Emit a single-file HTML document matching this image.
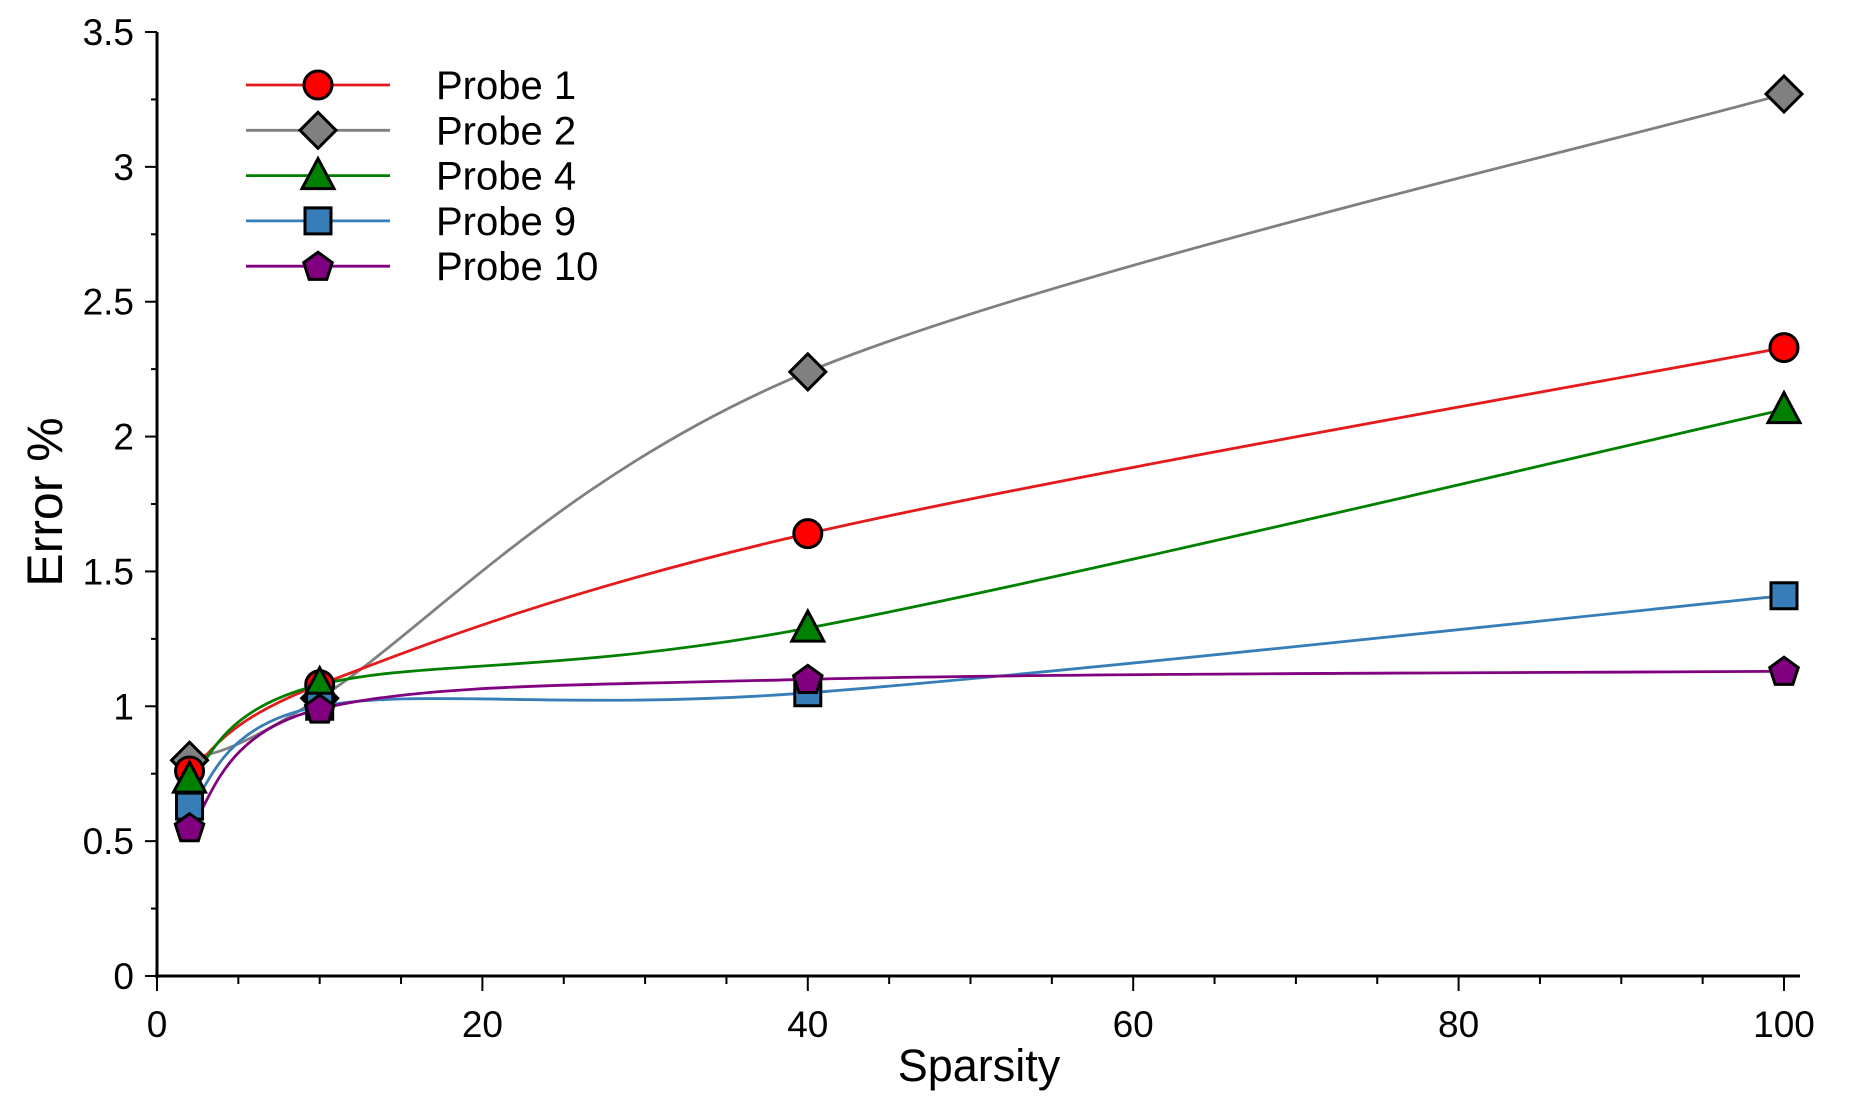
<!DOCTYPE html>
<html><head><meta charset="utf-8"><style>
body{margin:0;background:#fff}
svg{display:block;font-family:"Liberation Sans",sans-serif}
</style></head><body>
<svg id="chart" width="1851" height="1117" viewBox="0 0 1851 1117" xmlns="http://www.w3.org/2000/svg">
<g id="axes"></g>
<g id="series"></g>
<g id="legend"></g>
<text x="979" y="1081" font-size="45" text-anchor="middle">Sparsity</text>
<text x="0" y="0" font-size="50" text-anchor="middle" transform="translate(62,502) rotate(-90)">Error %</text>
</svg>
<script>
const xs = [2, 10, 40, 100];
const names = ["Probe 1","Probe 2","Probe 4","Probe 9","Probe 10"];
const p1 = [0.76, 1.08, 1.64, 2.33];
const p2 = [0.80, 1.03, 2.24, 3.27];
const p4 = [0.73, 1.08, 1.29, 2.10];
const p9 = [0.63, 1.00, 1.05, 1.41];
const p10 = [0.55, 0.99, 1.10, 1.13];
const xTicks = [0,20,40,60,80,100];
const yTicks = [0,0.5,1,1.5,2,2.5,3,3.5];
const yLabels = ["0","0.5","1","1.5","2","2.5","3","3.5"];

const NS="http://www.w3.org/2000/svg";
const X=v=>157+(v/100)*(1784-157);
const Y=v=>976-(v/3.5)*(976-32);
function mk(tag,attrs,parent){const e=document.createElementNS(NS,tag);for(const k in attrs)e.setAttribute(k,attrs[k]);parent.appendChild(e);return e;}
const axes=document.getElementById('axes');
let e;
e=mk('line',{x1:157,y1:32,x2:157,y2:978,stroke:'#000','stroke-width':3},axes);


e=mk('line',{x1:155,y1:976,x2:1800,y2:976,stroke:'#000','stroke-width':3},axes);


for(let v=0;v<=100;v+=5){
  const major=v%20===0;
  e=mk('line',{x1:X(v),y1:976,x2:X(v),y2:976+(major?15:8),stroke:'#000','stroke-width':2},axes);
  
  
}
xTicks.forEach(v=>{
  e=mk('text',{x:X(v),y:1037,'font-size':37,'text-anchor':'middle'},axes);e.textContent=v;
  
  
});
for(let v=0;v<=3.5001;v+=0.25){
  const major=Math.abs(v*2-Math.round(v*2))<1e-6;
  e=mk('line',{x1:157-(major?12:6),y1:Y(v),x2:157,y2:Y(v),stroke:'#000','stroke-width':2},axes);
  
  
}
yTicks.forEach((v,i)=>{
  e=mk('text',{x:134,y:Y(v)+13,'font-size':37,'text-anchor':'end'},axes);e.textContent=yLabels[i];
  
  
});
const colors=['#e41a1c','#808080','#008000','#377eb8','#800080'];
const shapes=['circle','diamond','triangle','square','pentagon'];
const data=[p1,p2,p4,p9,p10];
function marker(shape,cx,cy,fill,parent){
  const s={fill:fill,stroke:'#000','stroke-width':3};
  if(shape==='circle')return mk('circle',Object.assign({cx:cx,cy:cy,r:14},s),parent);
  let pts;
  if(shape==='diamond')pts=[[0,-18],[18,0],[0,18],[-18,0]];
  else if(shape==='triangle')pts=[[0,-17],[16,13],[-16,13]];
  else if(shape==='square')pts=[[-13,-13],[13,-13],[13,13],[-13,13]];
  else {pts=[];for(let k=0;k<5;k++){const a=-Math.PI/2+k*2*Math.PI/5;pts.push([15*Math.cos(a),15*Math.sin(a)+1]);}}
  return mk('polygon',Object.assign({points:pts.map(p=>(cx+p[0])+','+(cy+p[1])).join(' ')},s),parent);
}
function spline(pts){
  let d='M'+pts[0][0]+','+pts[0][1];
  for(let i=0;i<pts.length-1;i++){
    const p0=pts[Math.max(i-1,0)],p1=pts[i],p2=pts[i+1],p3=pts[Math.min(i+2,pts.length-1)];
    const t=0.5;
    const c1=[p1[0]+(p2[0]-p0[0])*t/3,p1[1]+(p2[1]-p0[1])*t/3];
    const c2=[p2[0]-(p3[0]-p1[0])*t/3,p2[1]-(p3[1]-p1[1])*t/3];
    d+=' C'+c1[0]+','+c1[1]+' '+c2[0]+','+c2[1]+' '+p2[0]+','+p2[1];
  }
  return d;
}
const series=document.getElementById('series');
const order=[1,0,2,3,4];
order.forEach(si=>{
  const g=mk('g',{},series);
  
  
  const pts=xs.map((x,i)=>[X(x),Y(data[si][i])]);
  const p=mk('path',{d:spline(pts),fill:'none',stroke:colors[si],'stroke-width':2.8},g);
  
  
});
order.forEach(si=>{
  xs.forEach((x,i)=>{
    const m=marker(shapes[si],X(x),Y(data[si][i]),colors[si]==='#e41a1c'?'#ff0000':colors[si],series);
    
    
  });
});
const legend=document.getElementById('legend');
names.forEach((n,i)=>{
  const y=85+i*45.3;
  const g=mk('g',{},legend);
  
  
  mk('line',{x1:246,y1:y,x2:390,y2:y,stroke:colors[i],'stroke-width':2.8},g);
  marker(shapes[i],318,y,colors[i]==='#e41a1c'?'#ff0000':colors[i],g);
  const t=mk('text',{x:436,y:y+14,'font-size':40},g);t.textContent=n;
});
</script>
</body></html>
